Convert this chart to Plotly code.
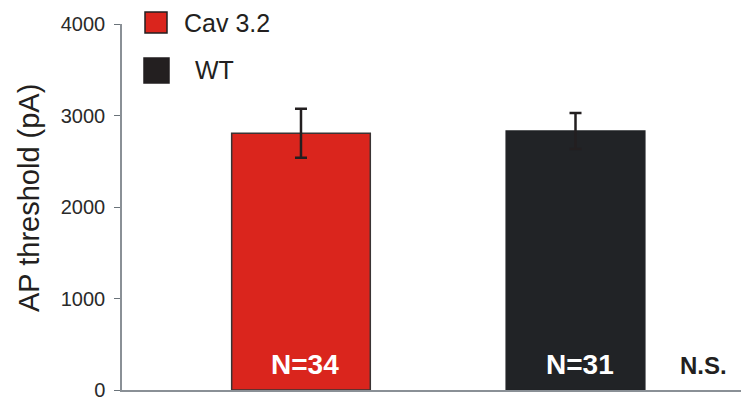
import plotly.graph_objects as go

groups = ["Cav 3.2", "WT"]
means = [2805, 2830]
errors = [268, 197]
n_labels = ["N=34", "N=31"]
colors = ["#DA251D", "#212326"]
y_ticks = [0, 1000, 2000, 3000, 4000]
sig_label = "N.S."
y_title = "AP threshold (pA)"

FONT = "Arial, Liberation Sans, Helvetica, sans-serif"

# page body has 8px default margin; compensate so figure fills the 749x399 window
OFF = 8
W, H = 749 - OFF, 399 - OFF
L, R, T, B = 122 - OFF, 0, 24 - OFF, 9
pw, ph = W - L - R, H - T - B


def fx(xref_px):
    return (xref_px - OFF - L) / pw


def fy(yref_px):
    return (H - B - (yref_px - OFF)) / ph


fig = go.Figure()
line_colors = ["#3a3434", "#212326"]
for g, m, e, c, lc in zip(groups, means, errors, colors, line_colors):
    fig.add_trace(go.Bar(
        x=[g], y=[m], name=g, width=0.505,
        marker=dict(color=c, line=dict(color=lc, width=1.5)),
        error_y=dict(type="data", array=[e], visible=True, color="#231f20",
                     thickness=2.5, width=6),
        showlegend=False,
    ))

for g, t in zip(groups, n_labels):
    fig.add_annotation(x=g, y=0, xref="x", yref="y", text=f"<b>{t}</b>",
                       showarrow=False, yanchor="bottom", yshift=8, xshift=4,
                       font=dict(family=FONT, size=28, color="white"))

fig.add_annotation(x=fx(703), y=0, xref="paper", yref="y", text=f"<b>{sig_label}</b>",
                   showarrow=False, xanchor="center", yanchor="bottom", yshift=9,
                   font=dict(family=FONT, size=24, color="#231f20"))

# custom legend
leg = [(groups[0], colors[0], "#231f20", 145, 167, 12, 33, 185),
       (groups[1], "#231f20", "#231f20", 144, 169, 58, 83, 196)]
for name, fc, lc, x0, x1, y0, y1, tx in leg:
    fig.add_shape(type="rect", xref="paper", yref="paper",
                  x0=fx(x0), x1=fx(x1), y0=fy(y1), y1=fy(y0),
                  fillcolor=fc, line=dict(color=lc, width=1.5))
    fig.add_annotation(xref="paper", yref="paper", x=fx(tx), y=fy((y0 + y1) / 2),
                       text=name, showarrow=False, xanchor="left", yanchor="middle",
                       xshift=-3, font=dict(family=FONT, size=25, color="#231f20"))

fig.add_annotation(xref="paper", yref="paper", x=fx(29), y=fy(198), text=y_title,
                   textangle=-90, showarrow=False, xanchor="center", yanchor="middle",
                   font=dict(family=FONT, size=29, color="#231f20"))

fig.update_layout(
    width=W, height=H,
    margin=dict(l=L, r=R, t=T, b=B),
    plot_bgcolor="white", paper_bgcolor="white",
    barmode="overlay",
    xaxis=dict(range=[-0.652, 1.632], showticklabels=False, ticks="",
               showline=True, linecolor="#8a9096", linewidth=1.5,
               showgrid=False, zeroline=False),
    yaxis=dict(range=[0, 4000], tickvals=y_ticks, ticks="outside", ticklen=6,
               tickcolor="#6a737a", tickwidth=1, showline=True, linecolor="#8a9096",
               linewidth=1.5, showgrid=False, zeroline=False, automargin=False,
               ticklabeloverflow="allow", ticklabelstandoff=5,
               tickfont=dict(family=FONT, size=20, color="#2a2a2a")),
)

fig.write_html("out.html")
